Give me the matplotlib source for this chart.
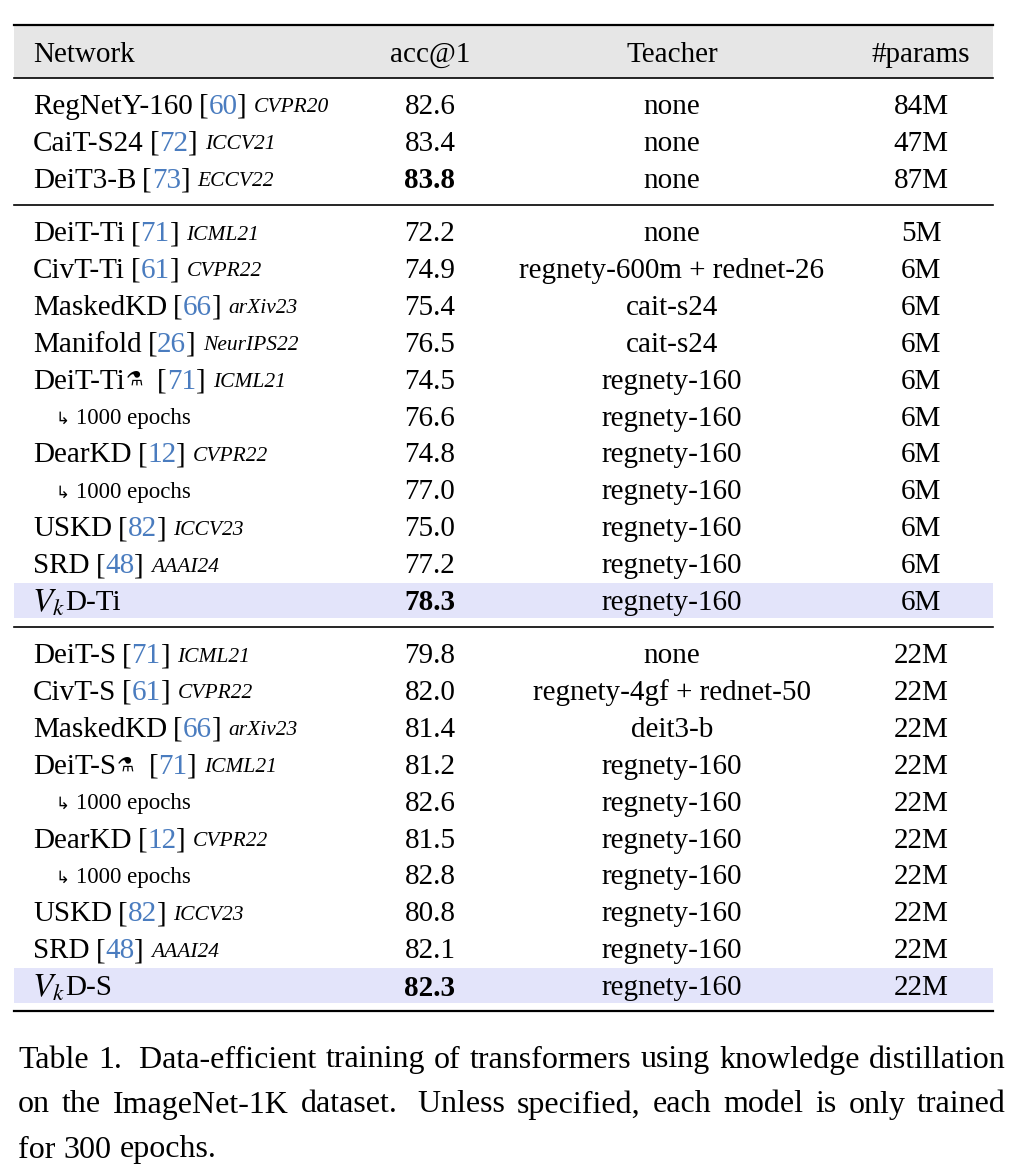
import matplotlib
matplotlib.use("Agg")
import matplotlib.pyplot as plt

plt.rcParams["font.family"] = ["Liberation Serif", "DejaVu Sans"]
plt.rcParams["mathtext.fontset"] = "stix"

ALEMBIC = "\u2697"
ARROW = "\u21b3"

names_1 = ["RegNetY-160", "CaiT-S24", "DeiT3-B"]
refs_1 = ["60", "72", "73"]
venues_1 = ["CVPR20", "ICCV21", "ECCV22"]
accs_1 = ["82.6", "83.4", "83.8"]
teachers_1 = ["none", "none", "none"]
params_1 = ["84M", "47M", "87M"]

names_2 = ["DeiT-Ti", "CivT-Ti", "MaskedKD", "Manifold", "DeiT-Ti" + ALEMBIC, ARROW + " 1000 epochs",
           "DearKD", ARROW + " 1000 epochs", "USKD", "SRD", "$V_k$D-Ti"]
refs_2 = ["71", "61", "66", "26", "71", "", "12", "", "82", "48", ""]
venues_2 = ["ICML21", "CVPR22", "arXiv23", "NeurIPS22", "ICML21", "", "CVPR22", "", "ICCV23", "AAAI24", ""]
accs_2 = ["72.2", "74.9", "75.4", "76.5", "74.5", "76.6", "74.8", "77.0", "75.0", "77.2", "78.3"]
teachers_2 = ["none", "regnety-600m + rednet-26", "cait-s24", "cait-s24", "regnety-160", "regnety-160",
              "regnety-160", "regnety-160", "regnety-160", "regnety-160", "regnety-160"]
params_2 = ["5M"] + ["6M"] * 10

names_3 = ["DeiT-S", "CivT-S", "MaskedKD", "DeiT-S" + ALEMBIC, ARROW + " 1000 epochs", "DearKD",
           ARROW + " 1000 epochs", "USKD", "SRD", "$V_k$D-S"]
refs_3 = ["71", "61", "66", "71", "", "12", "", "82", "48", ""]
venues_3 = ["ICML21", "CVPR22", "arXiv23", "ICML21", "", "CVPR22", "", "ICCV23", "AAAI24", ""]
accs_3 = ["79.8", "82.0", "81.4", "81.2", "82.6", "81.5", "82.8", "80.8", "82.1", "82.3"]
teachers_3 = ["none", "regnety-4gf + rednet-50", "deit3-b", "regnety-160", "regnety-160", "regnety-160",
              "regnety-160", "regnety-160", "regnety-160", "regnety-160"]
params_3 = ["22M"] * 10

bold_accs = {"83.8", "78.3", "82.3"}
headers = ["Network", "acc@1", "Teacher", "#params"]
caption = ("Table 1.  Data-efficient training of transformers using knowledge distillation on the "
           "ImageNet-1K dataset.  Unless specified, each model is only trained for 300 epochs.")

W, H = 1020, 1174
fig = plt.figure(figsize=(W / 100, H / 100), dpi=100)
ax = fig.add_axes([0, 0, 1, 1])
ax.set_xlim(0, W)
ax.set_ylim(H, 0)
ax.axis("off")
renderer = fig.canvas.get_renderer()

FS = 21
XL, XR = 14, 993
X_NET, X_ACC, X_TEA, X_PAR = 33, 430, 672, 921
BLUE = "#4a7cbf"
DY = 3


def put(x, y, s, **kw):
    t = ax.text(x, y, s, va="center", **kw)
    return x + t.get_window_extent(renderer).width


# header
ax.add_patch(plt.Rectangle((XL, 25), XR - XL, 53, color="#e6e6e6", lw=0, zorder=0))
ax.plot([XL, XR], [25, 25], color="black", lw=1.6)
ax.plot([XL, XR], [78, 78], color="black", lw=1.2)
ax.text(X_NET, 52 + DY, headers[0], fontsize=FS, va="center")
for xc, h in zip([X_ACC, X_TEA, X_PAR], headers[1:]):
    ax.text(xc, 52 + DY, h, fontsize=FS, va="center", ha="center")

blocks = [
    (names_1, refs_1, venues_1, accs_1, teachers_1, params_1, 104),
    (names_2, refs_2, venues_2, accs_2, teachers_2, params_2, 231),
    (names_3, refs_3, venues_3, accs_3, teachers_3, params_3, 653),
]
STEP = 36.9
for names, refs, venues, accs, teachers, params, y0 in blocks:
    for i in range(len(names)):
        yr = y0 + i * STEP
        y = yr + DY
        name = names[i]
        if name.startswith("$V_k$"):
            ax.add_patch(plt.Rectangle((XL, yr - 17), XR - XL, 35, color="#e3e4fa", lw=0, zorder=0))
            x = put(X_NET - 1, y, "$V_k$", fontsize=24)
            put(x, y, name[5:], fontsize=FS)
        elif name.startswith(ARROW):
            x = put(56, y, ARROW, fontsize=12, family=["DejaVu Sans"])
            put(x + 6, y, name[2:], fontsize=16.5)
        else:
            if name.endswith(ALEMBIC):
                x = put(X_NET, y, name[:-1], fontsize=FS)
                x = put(x + 1, y - 2, ALEMBIC, fontsize=14, family=["DejaVu Sans"]) + 8
            else:
                x = put(X_NET, y, name, fontsize=FS)
            x = put(x + 6, y, "[", fontsize=FS)
            x = put(x, y, refs[i], fontsize=FS, color=BLUE)
            x = put(x, y, "]", fontsize=FS)
            put(x + 7, y + 1, venues[i], fontsize=15.5, style="italic")
        ax.text(X_ACC, y, accs[i], fontsize=FS, va="center", ha="center",
                weight="bold" if accs[i] in bold_accs else "normal")
        ax.text(X_TEA, y, teachers[i], fontsize=FS, va="center", ha="center")
        ax.text(X_PAR, y, params[i], fontsize=FS, va="center", ha="center")

ax.plot([XL, XR], [205, 205], color="black", lw=1.2)
ax.plot([XL, XR], [627, 627], color="black", lw=1.2)
ax.plot([XL, XR], [1011, 1011], color="black", lw=1.6)

# caption, justified
CFS = 23
words = caption.replace("  ", " \u00a0").split(" ")
lines, cur = [], []
CX0, CX1 = 18, 1006


def width(s):
    t = ax.text(0, 0, s, fontsize=CFS)
    w = t.get_window_extent(renderer).width
    t.remove()
    return w


space = width("a b") - width("ab")
for w in words:
    trial = cur + [w]
    if cur and sum(width(v) for v in trial) + space * (len(trial) - 1) > CX1 - CX0:
        lines.append(cur)
        cur = [w]
    else:
        cur = trial
lines.append(cur)
for li, line in enumerate(lines):
    y = 1060 + li * 45
    ws = [width(v) for v in line]
    gap = space
    if li < len(lines) - 1 and len(line) > 1:
        gap = (CX1 - CX0 - sum(ws)) / (len(line) - 1)
    x = CX0
    for v, wv in zip(line, ws):
        ax.text(x, y, v, fontsize=CFS, va="center")
        x += wv + gap

fig.savefig("out.png", dpi=100)
